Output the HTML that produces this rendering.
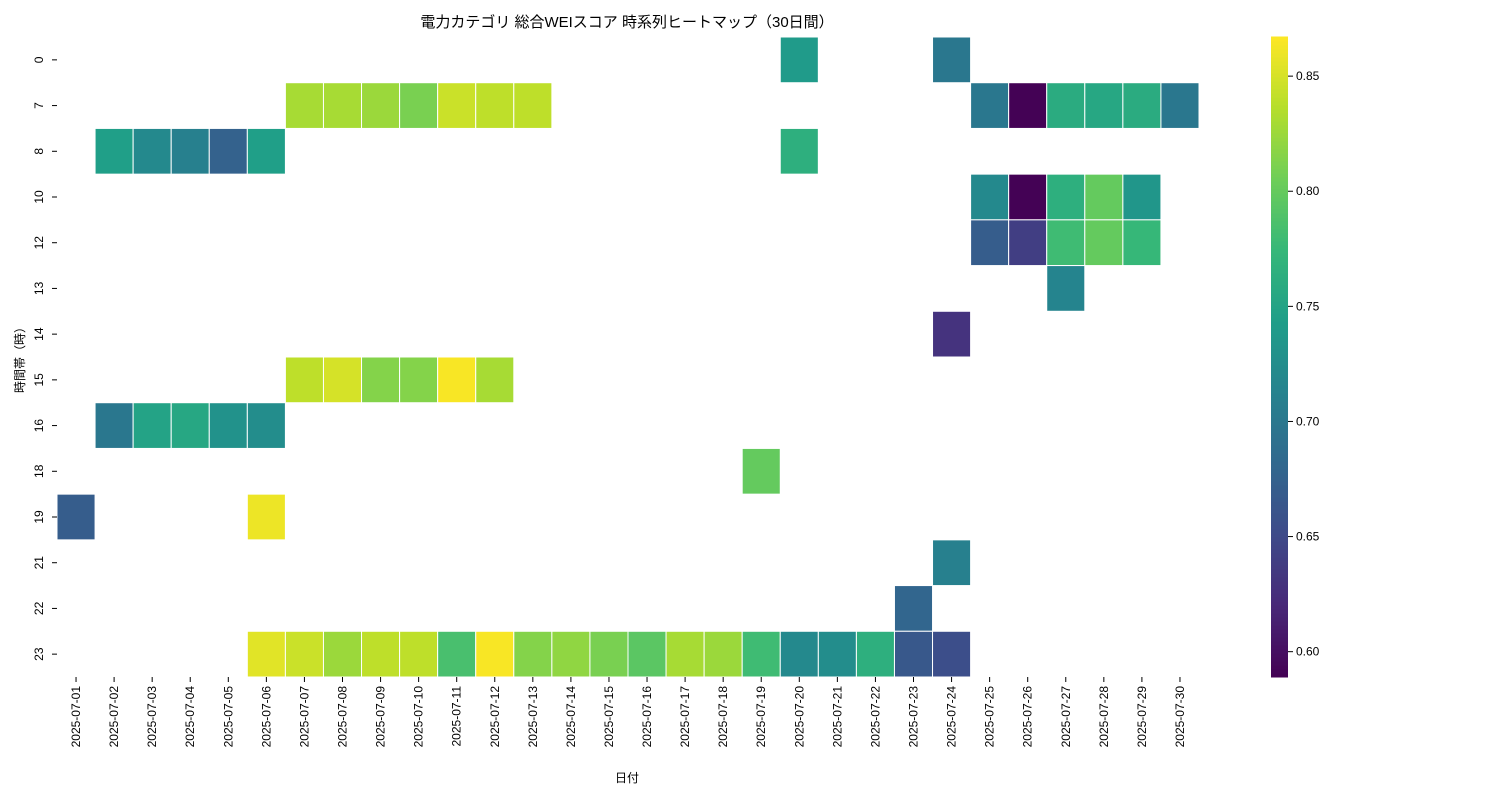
<!DOCTYPE html>
<html><head><meta charset="utf-8"><style>
body{margin:0;background:#fff;}
svg text{font-family:"Liberation Sans","Noto Sans CJK JP",sans-serif;fill:#000;}
</style></head><body>
<svg id="chart" width="1500" height="800" xmlns="http://www.w3.org/2000/svg">
<text x="627" y="27" font-size="15" text-anchor="middle">電力カテゴリ 総合WEIスコア 時系列ヒートマップ（30日間）</text>
<text x="627" y="782" font-size="12" text-anchor="middle">日付</text>
<text x="0" y="0" font-size="12" text-anchor="middle" transform="translate(24,357) rotate(-90)">時間帯（時）</text>
<g id="cells"></g><g id="xt"></g><g id="yt"></g><g id="cb"></g>
</svg>
<script>
const dates=["2025-07-01","2025-07-02","2025-07-03","2025-07-04","2025-07-05","2025-07-06","2025-07-07","2025-07-08","2025-07-09","2025-07-10","2025-07-11","2025-07-12","2025-07-13","2025-07-14","2025-07-15","2025-07-16","2025-07-17","2025-07-18","2025-07-19","2025-07-20","2025-07-21","2025-07-22","2025-07-23","2025-07-24","2025-07-25","2025-07-26","2025-07-27","2025-07-28","2025-07-29","2025-07-30"];
const hours=["0","7","8","10","12","13","14","15","16","18","19","21","22","23"];
const cbTicks=[0.60,0.65,0.70,0.75,0.80,0.85];
// [hourIndex, dateIndex, value]
const cellsData=[
[0,19,0.74],[0,23,0.70],
[1,6,0.83],[1,7,0.83],[1,8,0.825],[1,9,0.81],[1,10,0.845],[1,11,0.84],[1,12,0.84],[1,24,0.70],[1,25,0.59],[1,26,0.76],[1,27,0.755],[1,28,0.76],[1,29,0.70],
[2,1,0.745],[2,2,0.72],[2,3,0.71],[2,4,0.675],[2,5,0.745],[2,19,0.765],
[3,24,0.72],[3,25,0.59],[3,26,0.765],[3,27,0.80],[3,28,0.735],
[4,24,0.67],[4,25,0.64],[4,26,0.78],[4,27,0.80],[4,28,0.775],
[5,26,0.715],[6,23,0.63],
[7,6,0.84],[7,7,0.85],[7,8,0.815],[7,9,0.815],[7,10,0.865],[7,11,0.83],
[8,1,0.70],[8,2,0.75],[8,3,0.755],[8,4,0.73],[8,5,0.725],
[9,18,0.80],[10,0,0.67],[10,5,0.86],[11,23,0.71],[12,22,0.68],
[13,5,0.855],[13,6,0.845],[13,7,0.825],[13,8,0.84],[13,9,0.84],[13,10,0.785],[13,11,0.865],[13,12,0.815],[13,13,0.82],[13,14,0.81],[13,15,0.795],[13,16,0.83],[13,17,0.825],[13,18,0.78],[13,19,0.72],[13,20,0.725],[13,21,0.765],[13,22,0.665],[13,23,0.655]
];
const vmin=0.589,vmax=0.867;
const X0=57,X1=1199,Y0=37,Y1=677;
const cw=(X1-X0)/dates.length,ch=(Y1-Y0)/hours.length;
const xs=i=>X0+i*cw, ys=i=>Y0+i*ch;
const vir=[[68,1,84],[72,40,120],[62,74,137],[49,104,142],[38,130,142],[31,158,137],[53,183,121],[110,206,88],[181,222,43],[253,231,37]];
function col(v){let t=Math.max(0,Math.min(1,(v-vmin)/(vmax-vmin)))*(vir.length-1);let i=Math.min(Math.floor(t),vir.length-2),f=t-i;
const c=vir[i].map((a,k)=>Math.round(a+(vir[i+1][k]-a)*f));return `rgb(${c})`;}
const NS="http://www.w3.org/2000/svg";
function mk(tag,at,par){const e=document.createElementNS(NS,tag);for(const k in at)e.setAttribute(k,at[k]);document.getElementById(par).appendChild(e);return e;}
cellsData.forEach(d=>{const r=mk('rect',{x:xs(d[1]),y:ys(d[0]),width:cw,height:ch,fill:col(d[2]),stroke:'#fff','stroke-width':1},'cells');

});
dates.forEach((d,i)=>{const cx=xs(i)+cw/2;
const l=mk('line',{x1:cx,x2:cx,y1:Y1,y2:Y1+5,stroke:'#000'},'xt');


const t=mk('text',{transform:`translate(${cx+4},${Y1+9}) rotate(-90)`,'text-anchor':'end','font-size':12},'xt');t.textContent=d;

});
hours.forEach((h,i)=>{const cy=ys(i)+ch/2;
const l=mk('line',{x1:X0-5,x2:X0,y1:cy,y2:cy,stroke:'#000'},'yt');


const t=mk('text',{transform:`translate(${X0-14},${cy}) rotate(-90)`,'text-anchor':'middle','font-size':12},'yt');t.textContent=h;

});
// colorbar
const CX=1271,CW=17;const cy=v=>Y1-(v-vmin)/(vmax-vmin)*(Y1-Y0);
const n=160;for(let k=0;k<n;k++){const v0=vmin+(vmax-vmin)*k/n,v1=vmin+(vmax-vmin)*(k+1)/n;
const r=mk('rect',{x:CX,y:cy(v1)-0.5,width:CW,height:cy(v0)-cy(v1)+1,fill:col((v0+v1)/2)},'cb');

}
cbTicks.forEach(v=>{const y=cy(v);
const l=mk('line',{x1:CX+CW,x2:CX+CW+5,y1:y,y2:y,stroke:'#000'},'cb');


const t=mk('text',{x:CX+CW+8,y:y+4,'font-size':12},'cb');t.textContent=v.toFixed(2);

});
</script>
</body></html>
